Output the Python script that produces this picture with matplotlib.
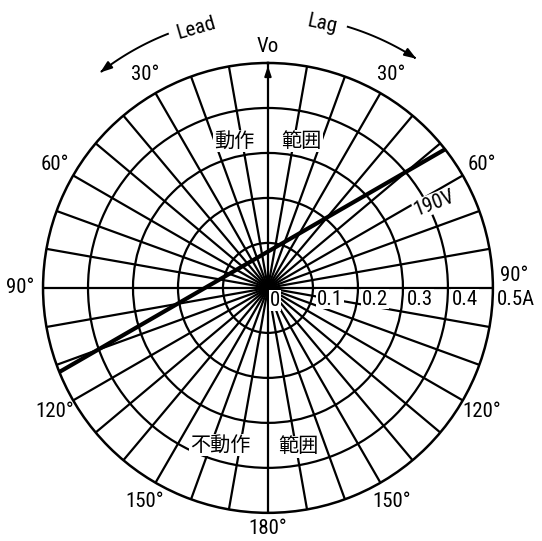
import numpy as np
import matplotlib
matplotlib.use('Agg')
import matplotlib.pyplot as plt
from matplotlib import font_manager

# --- data ---
ring_values = [0.1, 0.2, 0.3, 0.4, 0.5]
ring_labels = ['0.1', '0.2', '0.3', '0.4', '0.5A']
angle_marks = [30, 60, 90, 120, 150]
grid_step = 10
char_mta = -30        # characteristic normal, degrees (lead side negative)
char_pickup = 0.07    # A, distance of the boundary from the origin
char_label = '190V'

names = {f.name for f in font_manager.fontManager.ttflist}
narrow = [n for n in ['Liberation Sans Narrow', 'Arial Narrow', 'DejaVu Sans Condensed',
                      'Roboto Condensed', 'Open Sans Condensed'] if n in names]
if narrow:
    latin, fs = narrow[0], 15
else:
    latin, fs = 'DejaVu Sans', 12.5
plt.rcParams['font.family'] = [latin, 'Noto Sans CJK JP']
cjk = ['Noto Sans CJK JP', latin]

fig = plt.figure(figsize=(5.42, 5.41), dpi=100)
ax = fig.add_axes([0.0794, 0.0518, 0.830, 0.832], projection='polar')
ax.set_theta_zero_location('N')
ax.set_theta_direction(-1)
ax.set_ylim(0, ring_values[-1])
ax.set_rgrids(ring_values[:-1], labels=[''] * 4)
ax.set_thetagrids(range(0, 360, grid_step), labels=[''] * (360 // grid_step))
ax.grid(True, color='black', lw=1.6)
ax.spines['polar'].set_linewidth(1.8)
ax.tick_params(length=0)

# operating boundary (straight line)
th = np.radians(char_mta)
n = np.array([np.sin(th), np.cos(th)])
u = np.array([np.cos(th), -np.sin(th)])
half = np.sqrt(ring_values[-1] ** 2 - char_pickup ** 2)
t = np.linspace(-half, half, 300)
px = char_pickup * n[0] + t * u[0]
py = char_pickup * n[1] + t * u[1]
ax.plot(np.arctan2(px, py), np.hypot(px, py), color='black', lw=3.0, zorder=4)

txt = dict(fontsize=fs, ha='center', va='center', color='black')
wbox = dict(facecolor='white', edgecolor='none', pad=0.5)

# ring labels along the 90 deg line
for r, lab in zip(ring_values, ring_labels):
    ax.annotate(lab, xy=(np.pi / 2, r), xytext=(3, -8), textcoords='offset points',
                ha='left', va='center', fontsize=fs, bbox=wbox, zorder=5,
                annotation_clip=False)
ax.text(np.radians(150), 0.032, '0', bbox=wbox, zorder=5, **txt)

# angle labels
for a in angle_marks:
    if a == 90:
        ax.text(np.radians(-90), 0.552, '90°', **txt)
        ax.text(np.radians(87), 0.548, '90°', **txt)
        continue
    ax.text(np.radians(a), 0.548, f'{a}°', **txt)
    ax.text(np.radians(-a), 0.548, f'{a}°', **txt)
ax.text(np.pi, 0.535, '180°', **txt)
ax.text(0, 0.537, 'Vo', **txt)
ax.annotate('', xy=(0, 0.5), xytext=(0, 0.44),
            arrowprops=dict(arrowstyle='-|>,head_length=0.6,head_width=0.2',
                            color='black', lw=1.4), annotation_clip=False)

# region names
ax.text(np.radians(-13), 0.335, '動作', family=cjk, fontsize=14.5, ha='center',
        va='center', bbox=wbox, zorder=5)
ax.text(np.radians(13), 0.335, '範囲', family=cjk, fontsize=14.5, ha='center',
        va='center', bbox=wbox, zorder=5)
ax.text(np.radians(197), 0.365, '不動作', family=cjk, fontsize=14.5, ha='center',
        va='center', bbox=wbox, zorder=5)
ax.text(np.radians(169), 0.36, '範囲', family=cjk, fontsize=14.5, ha='center',
        va='center', bbox=wbox, zorder=5)

ax.text(np.radians(63), 0.415, char_label, fontsize=fs, rotation=21, ha='center',
        va='center', bbox=wbox, zorder=5)

# Lead / Lag arrows
for name, a0, a1, rot, at in [('Lead', -21.5, -38.5, 16, -15.5), ('Lag', 17, 33.5, -12, 11.5)]:
    arc = np.radians(np.linspace(a0, a1 - np.sign(a1) * 1.5, 50))
    ax.plot(arc, np.full_like(arc, 0.607), color='black', lw=1.4, clip_on=False)
    ax.annotate('', xy=(np.radians(a1), 0.607), xytext=(arc[-1], 0.607),
                arrowprops=dict(arrowstyle='-|>,head_length=0.7,head_width=0.25',
                                color='black', lw=1.4), annotation_clip=False)
    ax.text(np.radians(at), 0.6, name, fontsize=fs, rotation=rot,
            ha='center', va='center')

fig.savefig('out.png', dpi=100, facecolor='white')
